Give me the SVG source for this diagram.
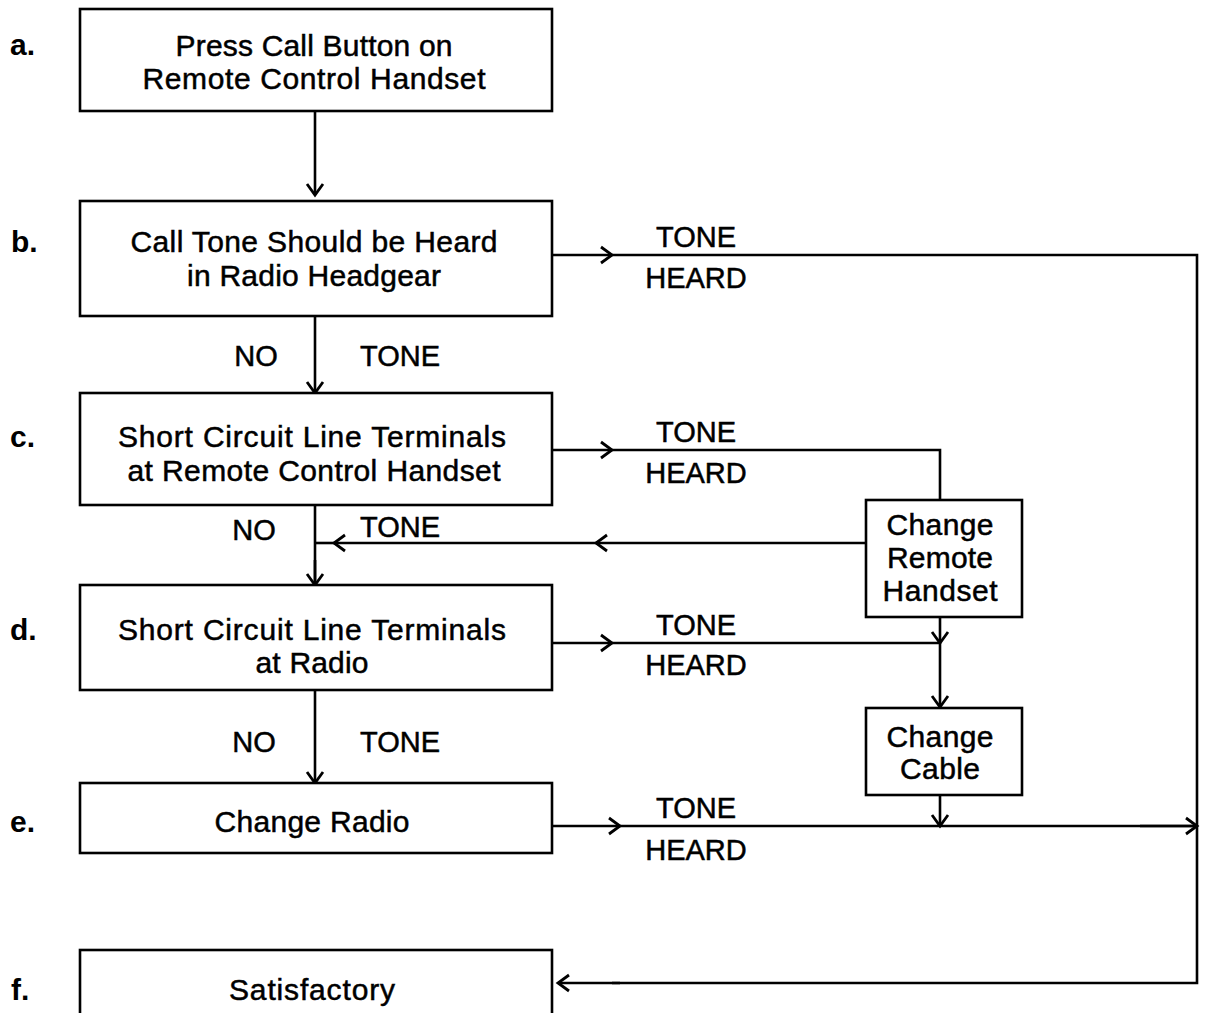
<svg xmlns="http://www.w3.org/2000/svg" width="1205" height="1013" viewBox="0 0 1205 1013">
<defs>
<marker id="ch" markerUnits="userSpaceOnUse" markerWidth="30" markerHeight="30" refX="0" refY="0" viewBox="-15 -15 30 30" orient="auto" overflow="visible">
<path d="M-11,-8 L0,0 L-11,8" fill="none" stroke="#000" stroke-width="2.8"/>
</marker>
</defs>
<style>
.box{fill:#fff;stroke:#000;stroke-width:2.6}
.t{font-family:"Liberation Sans",Arial,sans-serif;font-size:30px;fill:#000;stroke:#000;stroke-width:0.5;text-anchor:middle}
.s{font-family:"Liberation Sans",Arial,sans-serif;font-size:29px;fill:#000;stroke:#000;stroke-width:0.5;text-anchor:middle}
.l{font-family:"Liberation Sans",Arial,sans-serif;font-size:30px;font-weight:bold;fill:#000}
.c{fill:none;stroke:#000;stroke-width:2.6}
.a{fill:none;stroke:#000;stroke-width:2.6;marker-end:url(#ch)}
</style>
<rect width="1205" height="1013" fill="#fff"/>
<g id="connectors">
<path class="a" d="M315,111 L315,195"/>
<path class="a" d="M552,255 L612,255"/>
<path class="c" d="M612,255 L1197,255 L1197,983 L612,983"/>
<path class="a" d="M620,983 L558,983"/>
<path class="a" d="M315,316 L315,393"/>
<path class="a" d="M552,450 L612,450"/>
<path class="c" d="M612,450 L940,450 L940,500"/>
<path class="a" d="M866,543 L596,543"/>
<path class="a" d="M600,543 L334,543"/>
<path class="c" d="M334,543 L315,543"/>
<path class="c" d="M315,505 L315,585"/>
<path class="a" d="M315,560 L315,585"/>
<path class="a" d="M552,643 L612,643"/>
<path class="c" d="M612,643 L940,643"/>
<path class="a" d="M940,617 L940,643"/>
<path class="a" d="M940,643 L940,707"/>
<path class="a" d="M315,690 L315,783"/>
<path class="a" d="M552,826 L620,826"/>
<path class="c" d="M620,826 L1197,826"/>
<path class="a" d="M1140,826 L1197,826"/>
<path class="a" d="M940,795 L940,826"/>
</g>
<g id="node-a"><rect class="box" x="80" y="9" width="472" height="102"/><text class="t" x="314" y="56" textLength="277" lengthAdjust="spacing">Press Call Button on</text><text class="t" x="314" y="89" textLength="343" lengthAdjust="spacing">Remote Control Handset</text></g>
<g id="node-b"><rect class="box" x="80" y="201" width="472" height="115"/><text class="t" x="314" y="252" textLength="367" lengthAdjust="spacing">Call Tone Should be Heard</text><text class="t" x="314" y="286" textLength="254" lengthAdjust="spacing">in Radio Headgear</text></g>
<g id="node-c"><rect class="box" x="80" y="393" width="472" height="112"/><text class="t" x="312" y="447" textLength="388" lengthAdjust="spacing">Short Circuit Line Terminals</text><text class="t" x="314" y="481" textLength="373" lengthAdjust="spacing">at Remote Control Handset</text></g>
<g id="node-d"><rect class="box" x="80" y="585" width="472" height="105"/><text class="t" x="312" y="640" textLength="388" lengthAdjust="spacing">Short Circuit Line Terminals</text><text class="t" x="312" y="673" textLength="113" lengthAdjust="spacing">at Radio</text></g>
<g id="node-e"><rect class="box" x="80" y="783" width="472" height="70"/><text class="t" x="312" y="832" textLength="195" lengthAdjust="spacing">Change Radio</text></g>
<g id="node-f"><rect class="box" x="80" y="950" width="472" height="90"/><text class="t" x="312" y="1000" textLength="166" lengthAdjust="spacing">Satisfactory</text></g>
<g id="node-crh"><rect class="box" x="866" y="500" width="156" height="117"/><text class="t" x="940" y="535" textLength="107" lengthAdjust="spacing">Change</text><text class="t" x="940" y="568" textLength="106" lengthAdjust="spacing">Remote</text><text class="t" x="940" y="601" textLength="115" lengthAdjust="spacing">Handset</text></g>
<g id="node-cc"><rect class="box" x="866" y="708" width="156" height="87"/><text class="t" x="940" y="747" textLength="107" lengthAdjust="spacing">Change</text><text class="t" x="940" y="779" textLength="80" lengthAdjust="spacing">Cable</text></g>
<g id="labels">
<text class="l" x="10" y="55">a.</text>
<text class="l" x="11" y="252">b.</text>
<text class="l" x="10" y="447">c.</text>
<text class="l" x="10" y="640">d.</text>
<text class="l" x="10" y="832">e.</text>
<text class="l" x="11" y="1000">f.</text>
<text class="s" x="696" y="247">TONE</text><text class="s" x="696" y="288">HEARD</text>
<text class="s" x="256" y="366">NO</text><text class="s" x="400" y="366">TONE</text>
<text class="s" x="696" y="442">TONE</text><text class="s" x="696" y="483">HEARD</text>
<text class="s" x="254" y="540">NO</text><text class="s" x="400" y="537">TONE</text>
<text class="s" x="696" y="635">TONE</text><text class="s" x="696" y="675">HEARD</text>
<text class="s" x="254" y="752">NO</text><text class="s" x="400" y="752">TONE</text>
<text class="s" x="696" y="818">TONE</text><text class="s" x="696" y="860">HEARD</text>
</g>
</svg>
